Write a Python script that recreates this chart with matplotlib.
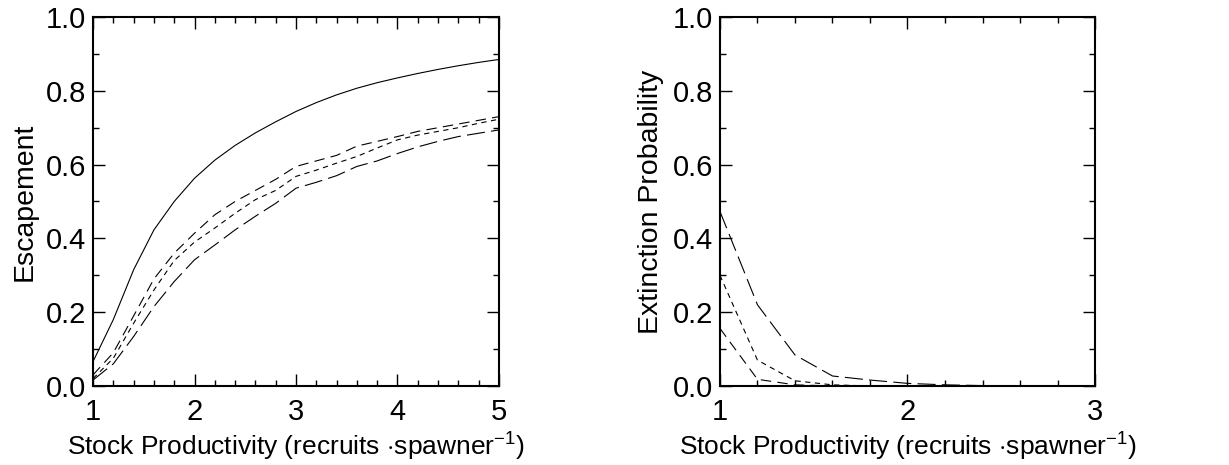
import matplotlib
matplotlib.use("Agg")
import matplotlib.pyplot as plt
from matplotlib.ticker import MultipleLocator, FormatStrFormatter

plt.rcParams['font.family'] = ['Liberation Sans', 'DejaVu Sans']
plt.rcParams['mathtext.fontset'] = 'custom'
plt.rcParams['mathtext.rm'] = 'Liberation Sans'
plt.rcParams['mathtext.it'] = 'Liberation Sans:italic'
plt.rcParams['mathtext.bf'] = 'Liberation Sans:bold'
plt.rcParams['lines.scale_dashes'] = False

# ---- data ----
productivity = [1.0, 1.2, 1.4, 1.6, 1.8, 2.0, 2.2, 2.4, 2.6, 2.8, 3.0,
                3.2, 3.4, 3.6, 3.8, 4.0, 4.2, 4.4, 4.6, 4.8, 5.0]

esc_solid = [0.066, 0.18, 0.315, 0.423, 0.50, 0.563, 0.612, 0.652, 0.686, 0.716, 0.744,
             0.768, 0.789, 0.807, 0.822, 0.835, 0.847, 0.858, 0.868, 0.877, 0.885]
esc_medium = [0.03, 0.09, 0.19, 0.29, 0.36, 0.414, 0.464, 0.50, 0.53, 0.56, 0.595,
              0.61, 0.625, 0.65, 0.663, 0.676, 0.69, 0.70, 0.71, 0.72, 0.73]
esc_short = [0.02, 0.075, 0.17, 0.26, 0.34, 0.39, 0.428, 0.468, 0.505, 0.53, 0.568,
             0.585, 0.604, 0.622, 0.645, 0.667, 0.68, 0.69, 0.70, 0.712, 0.723]
esc_long = [0.016, 0.06, 0.134, 0.215, 0.283, 0.342, 0.382, 0.423, 0.46, 0.495, 0.536,
            0.552, 0.57, 0.595, 0.61, 0.63, 0.648, 0.663, 0.676, 0.685, 0.694]

ext_solid = [0.0] * 21
ext_medium = [0.156, 0.018, 0.003, 0.0, 0.0, 0.0, 0.0, 0.0, 0.0, 0.0, 0.0,
              0.0, 0.0, 0.0, 0.0, 0.0, 0.0, 0.0, 0.0, 0.0, 0.0]
ext_short = [0.30, 0.07, 0.014, 0.003, 0.0, 0.0, 0.0, 0.0, 0.0, 0.0, 0.0,
             0.0, 0.0, 0.0, 0.0, 0.0, 0.0, 0.0, 0.0, 0.0, 0.0]
ext_long = [0.473, 0.22, 0.084, 0.027, 0.016, 0.007, 0.003, 0.001, 0.0, 0.0, 0.0,
            0.0, 0.0, 0.0, 0.0, 0.0, 0.0, 0.0, 0.0, 0.0, 0.0]

xlabel = 'Stock Productivity (recruits $\\cdot$spawner$^{-1}$)'

styles = {
    'solid': dict(linestyle='-'),
    'medium': dict(linestyle=(0, (7.5, 4.5))),
    'short': dict(linestyle=(0, (3.8, 3.2))),
    'long': dict(linestyle=(0, (13, 4.5))),
}

fig = plt.figure(figsize=(12.29, 4.65), dpi=100)
ax1 = fig.add_axes([0.0757, 0.170, 0.3303, 0.7934])
ax2 = fig.add_axes([0.5858, 0.170, 0.3052, 0.7934])

def style_axes(ax, xmax):
    ax.set_xlim(1, xmax)
    ax.set_ylim(0, 1)
    ax.xaxis.set_major_locator(MultipleLocator(1))
    ax.xaxis.set_minor_locator(MultipleLocator(0.2))
    ax.yaxis.set_major_locator(MultipleLocator(0.2))
    ax.yaxis.set_minor_locator(MultipleLocator(0.1))
    ax.yaxis.set_major_formatter(FormatStrFormatter('%.1f'))
    ax.tick_params(which='both', direction='in', top=True, right=True,
                   width=1.0, labelsize=21)
    ax.tick_params(axis='x', pad=9)
    ax.tick_params(axis='y', pad=5)
    ax.tick_params(which='major', length=8.5)
    ax.tick_params(which='minor', length=4.5)
    for s in ax.spines.values():
        s.set_linewidth(1.5)
    ax.set_xlabel(xlabel, fontsize=19, labelpad=3)

lw = 0.8
ax1.plot(productivity, esc_solid, color='black', lw=lw, **styles['solid'])
ax1.plot(productivity, esc_medium, color='black', lw=lw, **styles['medium'])
ax1.plot(productivity, esc_short, color='black', lw=lw, **styles['short'])
ax1.plot(productivity, esc_long, color='black', lw=lw, **styles['long'])
style_axes(ax1, 5)
ax1.set_ylabel('Escapement', fontsize=20.5, labelpad=6)

ax2.plot(productivity, ext_solid, color='black', lw=lw, **styles['solid'])
ax2.plot(productivity, ext_medium, color='black', lw=lw, **styles['medium'])
ax2.plot(productivity, ext_short, color='black', lw=lw, **styles['short'])
ax2.plot(productivity, ext_long, color='black', lw=lw, **styles['long'])
style_axes(ax2, 3)
ax2.set_ylabel('Extinction Probability', fontsize=20.5, labelpad=6)

fig.savefig('out.png', dpi=100)
